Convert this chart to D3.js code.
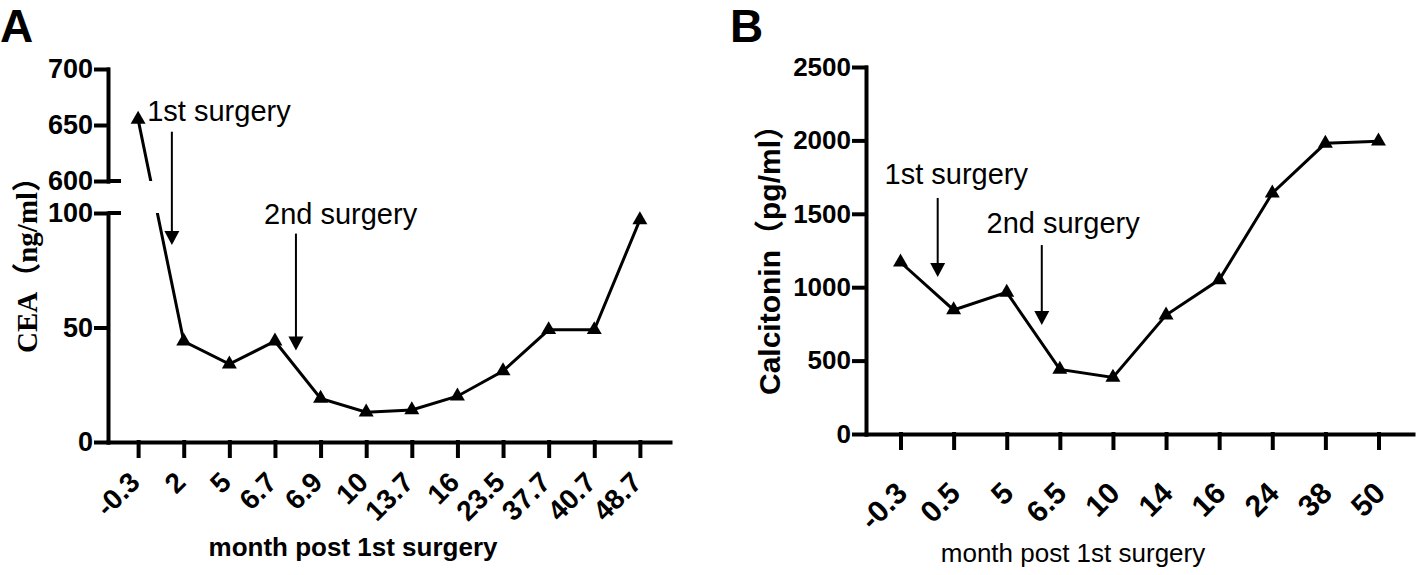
<!DOCTYPE html>
<html>
<head>
<meta charset="utf-8">
<script src="https://cdn.jsdelivr.net/npm/d3@7"></script>
<style>
  body { margin: 0; background: #fff; }
  svg { display: block; font-family: "Liberation Sans", Arial, sans-serif; }
  .axis path, .axis line { stroke: #000; stroke-width: 4; stroke-linecap: square; }
  .axis text { fill: #000; font-weight: bold; }
</style>
</head>
<body>
<svg id="chart" width="1418" height="575"></svg>
<script>
// panel A: CEA
const monthsA = ["-0.3", "2", "5", "6.7", "6.9", "10", "13.7", "16", "23.5", "37.7", "40.7", "48.7"];
const ceaValues = [655, 44, 34, 44, 19, 13, 14, 20, 31, 49, 49, 97];
const ceaTicksLow = [0, 50, 100];
const ceaTicksHigh = [600, 650, 700];

// panel B: calcitonin
const monthsB = ["-0.3", "0.5", "5", "6.5", "10", "14", "16", "24", "38", "50"];
const calcValues = [1170, 845, 965, 440, 385, 810, 1050, 1640, 1980, 1995];
const calcTicks = [0, 500, 1000, 1500, 2000, 2500];

// surgery arrows: position along x as fractional category index, y in data units
const surgeryA = [
  { label: "1st surgery", tx: 0.2, ty: 654, ax: 0.74, from: 644, to: 86 },
  { label: "2nd surgery", tx: 2.76, ty: 95, ax: 3.46, from: 91, to: 40 }
];
const surgeryB = [
  { label: "1st surgery", tx: -0.3, ty: 1703, ax: 0.7, from: 1608, to: 1070 },
  { label: "2nd surgery", tx: 1.62, ty: 1369, ax: 2.66, from: 1287, to: 742 }
];

const svg = d3.select("#chart");
svg.append("rect").attr("width", 1418).attr("height", 575).attr("fill", "#fff");

const tri = d3.symbol().type(d3.symbolTriangle).size(97);
const xAt = (scale, i) => scale(scale.domain()[0]) + i * scale.step();

function drawArrows(list, xs, ys) {
  list.forEach(a => {
    let x = xAt(xs, a.ax);
    let tip = ys(a.to);
    svg.append("line")
      .attr("x1", x).attr("x2", x)
      .attr("y1", ys(a.from)).attr("y2", tip - 10)
      .attr("stroke", "#000").attr("stroke-width", 2);
    svg.append("path")
      .attr("d", `M${x - 7.5},${tip - 14}L${x + 7.5},${tip - 14}L${x},${tip}Z`)
      .attr("fill", "#000");
    svg.append("text")
      .attr("x", xAt(xs, a.tx)).attr("y", ys(a.ty))
      .attr("font-size", 29)
      .text(a.label);
  });
}

// ---------- A ----------
const xA = d3.scalePoint().domain(monthsA).range([108, 670]).padding(0.66);
const yLow = d3.scaleLinear().domain([0, 100]).range([442, 213]);
const yHigh = d3.scaleLinear().domain([600, 700]).range([181, 69]);
const yA = v => v >= 600 ? yHigh(v) : yLow(v);

svg.append("text").attr("x", 0).attr("y", 42)
  .attr("font-size", 46).attr("font-weight", "bold").text("A");

let gxA = svg.append("g").attr("class", "axis")
  .attr("transform", "translate(0,442)")
  .call(d3.axisBottom(xA).tickSize(14).tickSizeOuter(0));
gxA.selectAll("text")
  .attr("x", 0).attr("y", 0).attr("dy", 0)
  .attr("font-size", 28)
  .attr("text-anchor", "end")
  .attr("transform", "translate(3,42) rotate(-45)");

[[yLow, ceaTicksLow], [yHigh, ceaTicksHigh]].forEach(([s, t]) => {
  svg.append("g").attr("class", "axis")
    .attr("transform", "translate(108,0)")
    .call(d3.axisLeft(s).tickValues(t).tickSize(12).tickPadding(3).tickSizeOuter(0))
    .selectAll("text").attr("font-size", 27);
});
// break caps
[yHigh(600), yLow(100)].forEach(y => {
  svg.append("line").attr("x1", 108).attr("x2", 121).attr("y1", y).attr("y2", y)
    .attr("stroke", "#000").attr("stroke-width", 4);
});

let clip = svg.append("clipPath").attr("id", "breakclip");
clip.append("rect").attr("x", 100).attr("y", 0).attr("width", 600).attr("height", yHigh(600));
clip.append("rect").attr("x", 100).attr("y", yLow(100)).attr("width", 600).attr("height", 300);

const ceaData = monthsA.map((m, i) => ({ m: m, v: ceaValues[i] }));
svg.append("path")
  .datum(ceaData)
  .attr("clip-path", "url(#breakclip)")
  .attr("fill", "none").attr("stroke", "#000").attr("stroke-width", 3)
  .attr("d", d3.line().x(d => xA(d.m)).y(d => yA(d.v)));
svg.selectAll(".ptA").data(ceaData).enter().append("path")
  .attr("class", "ptA")
  .attr("transform", d => `translate(${xA(d.m)},${yA(d.v)})`)
  .attr("d", tri);

drawArrows(surgeryA, xA, yA);

svg.append("text")
  .attr("transform", "translate(37,353) rotate(-90)")
  .attr("font-family", "'Liberation Serif', 'Times New Roman', 'Noto Sans CJK SC', serif")
  .attr("font-weight", "bold").attr("font-size", 29).attr("fill", "#000")
  .text("CEA（ng/ml）");

svg.append("text").attr("x", 353).attr("y", 556)
  .attr("text-anchor", "middle").attr("font-size", 26).attr("font-weight", "bold")
  .text("month post 1st surgery");

// ---------- B ----------
const xB = d3.scalePoint().domain(monthsB).range([866, 1413]).padding(0.65);
const yB = d3.scaleLinear().domain([0, 2500]).range([434, 67]);

svg.append("text").attr("x", 730).attr("y", 42)
  .attr("font-size", 46).attr("font-weight", "bold").text("B");

let gxB = svg.append("g").attr("class", "axis")
  .attr("transform", "translate(0,434)")
  .call(d3.axisBottom(xB).tickSize(14).tickSizeOuter(0));
gxB.selectAll("text")
  .attr("x", 0).attr("y", 0).attr("dy", 0)
  .attr("font-size", 30)
  .attr("text-anchor", "end")
  .attr("transform", "translate(8,61) rotate(-45)");

svg.append("g").attr("class", "axis")
  .attr("transform", "translate(866,0)")
  .call(d3.axisLeft(yB).tickValues(calcTicks).tickFormat(d3.format("d"))
    .tickSize(12).tickPadding(3).tickSizeOuter(0))
  .selectAll("text").attr("font-size", 26);

const calcData = monthsB.map((m, i) => ({ m: m, v: calcValues[i] }));
svg.append("path")
  .datum(calcData)
  .attr("fill", "none").attr("stroke", "#000").attr("stroke-width", 3)
  .attr("d", d3.line().x(d => xB(d.m)).y(d => yB(d.v)));
svg.selectAll(".ptB").data(calcData).enter().append("path")
  .attr("class", "ptB")
  .attr("transform", d => `translate(${xB(d.m)},${yB(d.v)})`)
  .attr("d", tri);

drawArrows(surgeryB, xB, yB);

svg.append("text")
  .attr("transform", "translate(780,395) rotate(-90)")
  .attr("font-family", "'Liberation Sans', Arial, 'Noto Sans CJK SC', sans-serif")
  .attr("font-weight", "bold").attr("font-size", 30)
  .text("Calcitonin（pg/ml）");

svg.append("text").attr("x", 1073).attr("y", 562)
  .attr("text-anchor", "middle").attr("font-size", 26)
  .text("month post 1st surgery");
</script>
</body>
</html>
